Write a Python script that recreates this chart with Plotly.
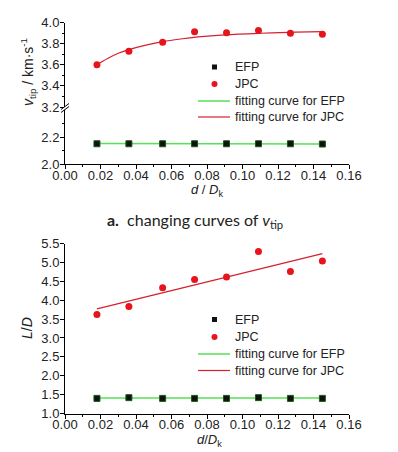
import plotly.graph_objects as go

W, H = 398, 452

# ---------------- data ----------------
d_ratio = [0.018, 0.036, 0.055, 0.073, 0.091, 0.109, 0.127, 0.145]

# chart a: tip velocity (km/s)
v_efp = [2.15, 2.15, 2.15, 2.15, 2.15, 2.15, 2.15, 2.148]
v_jpc = [3.60, 3.73, 3.815, 3.915, 3.905, 3.925, 3.90, 3.89]
fit_v_efp_x = [0.018, 0.145]
fit_v_efp_y = [2.151, 2.148]
fit_v_jpc_x = [0.018, 0.024, 0.030, 0.036, 0.045, 0.055, 0.065, 0.075, 0.090, 0.110, 0.130, 0.145]
fit_v_jpc_y = [3.60, 3.66, 3.71, 3.745, 3.785, 3.82, 3.845, 3.865, 3.885, 3.90, 3.91, 3.915]

# chart b: L/D
ld_efp = [1.40, 1.42, 1.40, 1.40, 1.40, 1.42, 1.40, 1.40]
ld_jpc = [3.62, 3.83, 4.33, 4.545, 4.61, 5.29, 4.76, 5.04]
fit_ld_efp_x = [0.018, 0.145]
fit_ld_efp_y = [1.41, 1.41]
fit_ld_jpc_x = [0.018, 0.145]
fit_ld_jpc_y = [3.77, 5.23]

x_ticks = [0.00, 0.02, 0.04, 0.06, 0.08, 0.10, 0.12, 0.14, 0.16]
x_tick_text = ["0.00", "0.02", "0.04", "0.06", "0.08", "0.10", "0.12", "0.14", "0.16"]
v_ticks_low = [2.0, 2.2]
v_ticks_high = [3.2, 3.4, 3.6, 3.8, 4.0]
ld_ticks = [1.0, 1.5, 2.0, 2.5, 3.0, 3.5, 4.0, 4.5, 5.0, 5.5]

legend_labels = ["EFP", "JPC", "fitting curve for EFP", "fitting curve for JPC"]

# ---------------- style ----------------
RED = "#e8141c"
RED_LINE = "#d42030"
GREEN = "#55e255"
FONT = "Liberation Sans Narrow, Arial Narrow, Liberation Sans, Arial, sans-serif"
TXT = "#222222"


def px(x):
    return x / W


def py(y):
    return 1 - y / H


xdom = [px(65), px(349)]

fig = go.Figure()

# ---- top chart (a) ----
fig.add_trace(go.Scatter(x=fit_v_efp_x, y=fit_v_efp_y, mode="lines", xaxis="x", yaxis="y",
                         line=dict(color=GREEN, width=1.5), name=legend_labels[2]))
fig.add_trace(go.Scatter(x=fit_v_jpc_x, y=fit_v_jpc_y, mode="lines", xaxis="x", yaxis="y2",
                         line=dict(color=RED_LINE, width=1.2, shape="spline"), name=legend_labels[3]))
fig.add_trace(go.Scatter(x=d_ratio, y=v_efp, mode="markers", xaxis="x", yaxis="y",
                         marker=dict(symbol="square", size=6, color="#111111",
                                     line=dict(color="#1a5a1a", width=1)),
                         name=legend_labels[0]))
fig.add_trace(go.Scatter(x=d_ratio, y=v_jpc, mode="markers", xaxis="x", yaxis="y2",
                         marker=dict(symbol="circle", size=7, color=RED),
                         name=legend_labels[1]))

# ---- bottom chart (b) ----
fig.add_trace(go.Scatter(x=fit_ld_efp_x, y=fit_ld_efp_y, mode="lines", xaxis="x2", yaxis="y3",
                         line=dict(color=GREEN, width=1.5), name=legend_labels[2]))
fig.add_trace(go.Scatter(x=fit_ld_jpc_x, y=fit_ld_jpc_y, mode="lines", xaxis="x2", yaxis="y3",
                         line=dict(color=RED_LINE, width=1.2), name=legend_labels[3]))
fig.add_trace(go.Scatter(x=d_ratio, y=ld_efp, mode="markers", xaxis="x2", yaxis="y3",
                         marker=dict(symbol="square", size=6, color="#111111",
                                     line=dict(color="#1a5a1a", width=1)),
                         name=legend_labels[0]))
fig.add_trace(go.Scatter(x=d_ratio, y=ld_jpc, mode="markers", xaxis="x2", yaxis="y3",
                         marker=dict(symbol="circle", size=7, color=RED),
                         name=legend_labels[1]))

axis_common = dict(showline=True, linecolor="black", linewidth=1, ticks="outside",
                   ticklen=4, tickcolor="black", showgrid=False, zeroline=False,
                   automargin=False,
                   tickfont=dict(family=FONT, size=13, color=TXT))

xaxis_common = dict(axis_common, range=[0, 0.16], tickvals=x_ticks, ticktext=x_tick_text,
                    ticklabelstandoff=-5,
                    minor=dict(ticks="outside", ticklen=2, dtick=0.01, tick0=0, tickcolor="black", showgrid=False))

yaxis_common = dict(axis_common, ticklabelstandoff=-2)

fig.update_layout(
    width=W, height=H,
    margin=dict(l=0, r=0, t=0, b=0, autoexpand=False),
    paper_bgcolor="white", plot_bgcolor="white",
    showlegend=False,
    xaxis=dict(xaxis_common, domain=xdom, anchor="y"),
    yaxis=dict(yaxis_common, domain=[py(164), py(110)], range=[2.0, 2.4], tickvals=v_ticks_low,
               ticktext=["2.0", "2.2"], anchor="x",
               minor=dict(ticks="outside", ticklen=2, tickvals=[2.1, 2.3], tickcolor="black")),
    yaxis2=dict(yaxis_common, domain=[py(107), py(22.7)], range=[3.2, 4.0], tickvals=v_ticks_high,
                ticktext=["3.2", "3.4", "3.6", "3.8", "4.0"], anchor="x",
                minor=dict(ticks="outside", ticklen=2, tickvals=[3.3, 3.5, 3.7, 3.9], tickcolor="black")),
    xaxis2=dict(xaxis_common, domain=xdom, anchor="y3"),
    yaxis3=dict(yaxis_common, domain=[py(413.5), py(243.5)], range=[1.0, 5.5], tickvals=ld_ticks,
                ticktext=[f"{v:.1f}" for v in ld_ticks], anchor="x2"),
)

# ---- legends (drawn as shapes + text) ----
def add_legend(row_ys):
    mx, lx0, lx1, tx = 214.5, 198, 230, 233
    y0, y1, y2, y3 = row_ys
    fig.add_shape(type="rect", xref="paper", yref="paper",
                  x0=px(mx - 2.5), x1=px(mx + 2.5), y0=py(y0 + 2.5), y1=py(y0 - 2.5),
                  fillcolor="#111111", line=dict(width=0))
    fig.add_shape(type="circle", xref="paper", yref="paper",
                  x0=px(mx - 3), x1=px(mx + 3), y0=py(y1 + 3), y1=py(y1 - 3),
                  fillcolor=RED, line=dict(width=0))
    fig.add_shape(type="line", xref="paper", yref="paper",
                  x0=px(lx0), x1=px(lx1), y0=py(y2), y1=py(y2), line=dict(color=GREEN, width=1.5))
    fig.add_shape(type="line", xref="paper", yref="paper",
                  x0=px(lx0), x1=px(lx1), y0=py(y3), y1=py(y3), line=dict(color=RED_LINE, width=1.2))
    for lab, yy in zip(legend_labels, row_ys):
        fig.add_annotation(x=px(tx), y=py(yy), xref="paper", yref="paper", showarrow=False,
                           xanchor="left", yanchor="middle", text=lab,
                           font=dict(family=FONT, size=12.5, color=TXT))


add_legend([67, 84, 101, 117])
add_legend([319.5, 337, 354, 370.5])


def label(x, y, text, angle=0, size=14, family=FONT):
    fig.add_annotation(x=px(x), y=py(y), xref="paper", yref="paper", showarrow=False,
                       xanchor="center", yanchor="middle", textangle=angle, text=text,
                       font=dict(family=family, size=size, color=TXT))


# axis titles and caption
label(207, 191, "<i>d</i> / <i>D</i><sub>k</sub>", size=13)
label(210, 440, "<i>d</i>/<i>D</i><sub>k</sub>", size=13)
label(28, 72, "<i>v</i><sub>tip</sub> / km·s<sup>-1</sup>", angle=-90)
label(27, 328, "<i>L</i>/<i>D</i>", angle=-90)
label(195, 221, "<b>a.</b>  changing curves of <i>v</i><sub>tip</sub>", size=16,
      family="Lato, Noto Sans, sans-serif")

# axis break marks
for dy in (-1.5, 1.5):
    fig.add_shape(type="line", xref="paper", yref="paper",
                  x0=px(61), y0=py(111 + dy), x1=px(69), y1=py(105 + dy),
                  line=dict(color="black", width=1))

fig.write_html("out.html", config={"displayModeBar": False},
               post_script="document.body.style.margin='0';")
